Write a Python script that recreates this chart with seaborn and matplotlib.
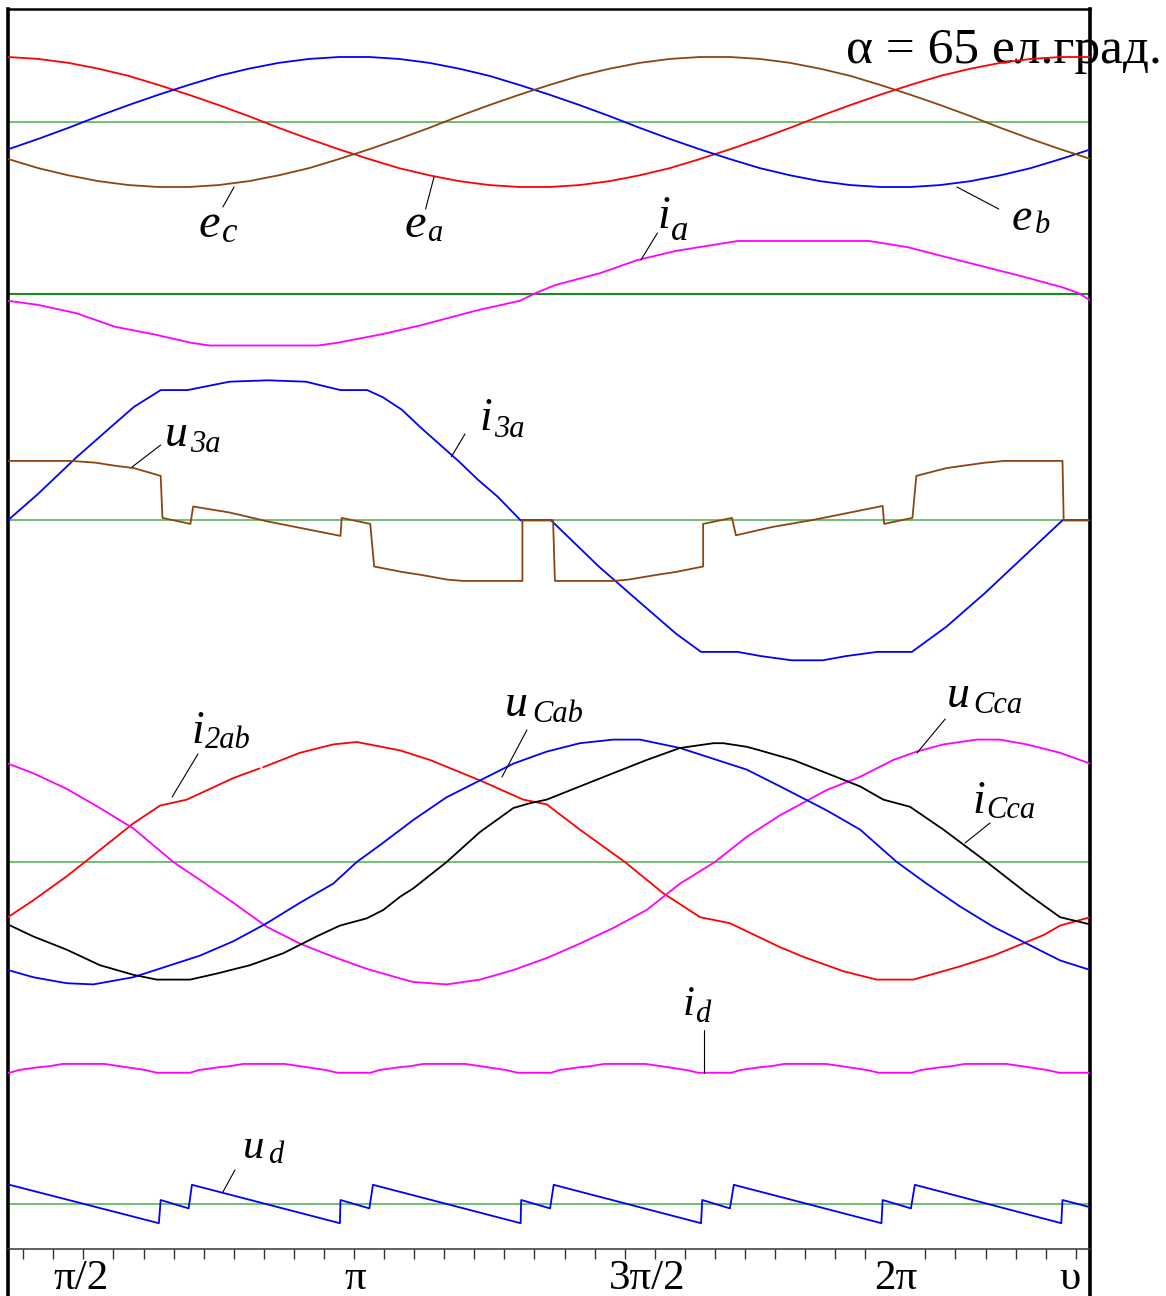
import numpy as np
import pandas as pd
import matplotlib
matplotlib.use("Agg")
import matplotlib.pyplot as plt
from matplotlib.ticker import FixedLocator
import seaborn as sns

# ---------------- data (electrical degrees, per-unit values) ----------------
theta_e = np.arange(65, 426, 10)
e_a = [1.00, 0.97, 0.91, 0.82, 0.71, 0.57, 0.42, 0.26, 0.09, -0.09, -0.26, -0.42,
       -0.57, -0.71, -0.82, -0.91, -0.97, -1.00, -1.00, -0.97, -0.91, -0.82, -0.71,
       -0.57, -0.42, -0.26, -0.09, 0.09, 0.26, 0.42, 0.57, 0.71, 0.82, 0.91, 0.97,
       1.00, 1.00]
e_b = [-0.42, -0.26, -0.09, 0.09, 0.26, 0.42, 0.57, 0.71, 0.82, 0.91, 0.97, 1.00,
       1.00, 0.97, 0.91, 0.82, 0.71, 0.57, 0.42, 0.26, 0.09, -0.09, -0.26, -0.42,
       -0.57, -0.71, -0.82, -0.91, -0.97, -1.00, -1.00, -0.97, -0.91, -0.82, -0.71,
       -0.57, -0.42]
e_c = [-0.57, -0.71, -0.82, -0.91, -0.97, -1.00, -1.00, -0.97, -0.91, -0.82, -0.71,
       -0.57, -0.42, -0.26, -0.09, 0.09, 0.26, 0.42, 0.57, 0.71, 0.82, 0.91, 0.97,
       1.00, 1.00, 0.97, 0.91, 0.82, 0.71, 0.57, 0.42, 0.26, 0.09, -0.09, -0.26,
       -0.42, -0.57]

ia_theta = [64.9, 75, 87.7, 100.5, 113, 126, 132, 168, 174.3, 189.6, 202.3, 221.2,
            235.2, 240.5, 246.8, 261.8, 274.1, 287.1, 307.7, 351.3, 364.2, 376.9,
            389.9, 402.8, 415.5, 420.8, 424.8]
ia_val = [-0.13, -0.21, -0.37, -0.63, -0.77, -0.94, -0.99, -0.99, -0.94, -0.77,
          -0.60, -0.31, -0.13, 0.02, 0.17, 0.40, 0.65, 0.83, 1.02, 1.02, 0.90, 0.71,
          0.52, 0.33, 0.13, 0.02, -0.12]

i3a_theta = [64.9, 75, 87.7, 100.4, 106.8, 115.7, 124.6, 138.6, 151.4, 164, 175.5,
             184.4, 189.5, 195.9, 202.3, 208.6, 214.9, 221.2, 227.7, 235.4, 245.5,
             261.4, 274.2, 287.1, 295.4, 307.6, 315.3, 325.6, 335.9, 343.6, 353.9,
             365.5, 377.0, 389.8, 402.7, 415.6, 424.8]
i3a_val = [0.0, 0.19, 0.45, 0.69, 0.81, 0.93, 0.93, 0.99, 1.00, 0.99, 0.93, 0.93,
           0.88, 0.79, 0.66, 0.54, 0.42, 0.29, 0.17, 0.0, 0.0, -0.33, -0.57, -0.81,
           -0.94, -0.94, -0.97, -1.00, -1.00, -0.97, -0.94, -0.94, -0.76, -0.52,
           -0.26, 0.0, 0.0]

u3a_theta = [64.9, 85.8, 94.1, 100.4, 106.8, 115.7, 116.3, 125.6, 126.5, 138.6,
             151.4, 175.5, 175.9, 185.4, 186.7, 195.9, 202.3, 211.2, 216.2, 236.0,
             236.0, 246.2, 246.8, 266.4, 271.0, 280.6, 287.1, 296.1, 296.1, 305.7,
             307.0, 319.2, 332.0, 345.0, 355.8, 356.3, 365.7, 367.0, 377.0, 389.8,
             396.3, 415.6, 416.0, 424.8]
u3a_val = [0.99, 0.99, 0.96, 0.91, 0.87, 0.74, 0.04, -0.06, 0.23, 0.13, -0.02,
           -0.26, 0.04, -0.06, -0.77, -0.86, -0.91, -0.99, -1.01, -1.01, 0.0, 0.0,
           -1.01, -1.01, -0.99, -0.91, -0.86, -0.77, -0.06, 0.04, -0.25, -0.11, 0.0,
           0.13, 0.24, -0.06, 0.04, 0.74, 0.87, 0.96, 0.99, 0.99, 0.0, 0.0]

i2ab_theta = [64.9, 73.3, 84.4, 90.5, 95.5, 106.5, 115.5, 124.4, 139.9, 148.6, 149.2,
              149.8, 162.0, 173.1, 180.9, 195.3, 205.3, 221.9, 236.3, 244.1, 255.1,
              266.2, 270.1, 282.8, 295.1, 305.0, 321.7, 329.4, 342.7, 353.8, 366.0,
              381.5, 392.6, 409.2, 414.8, 424.8]
i2ab_val = [-0.46, -0.32, -0.12, 0.0, 0.10, 0.32, 0.47, 0.52, 0.70, 0.78, np.nan,
            0.79, 0.91, 0.98, 1.00, 0.93, 0.85, 0.68, 0.52, 0.48, 0.27, 0.07, 0.0,
            -0.26, -0.46, -0.51, -0.71, -0.79, -0.91, -0.98, -0.98, -0.87, -0.78,
            -0.61, -0.53, -0.46]

ucca_theta = [64.9, 73.3, 84.4, 95.5, 106.6, 119.9, 128.8, 139.9, 151.0, 162.0,
              173.1, 184.2, 195.3, 199.7, 210.8, 221.9, 233.0, 244.1, 255.1, 266.2,
              277.3, 288.4, 300.0, 310.6, 321.7, 337.2, 348.3, 359.3, 367.1, 376.0,
              387.1, 394.8, 403.7, 414.8, 424.8]
ucca_val = [0.82, 0.74, 0.61, 0.45, 0.28, 0.0, -0.15, -0.34, -0.54, -0.68, -0.79,
            -0.89, -0.97, -1.00, -1.02, -0.98, -0.90, -0.80, -0.68, -0.55, -0.40,
            -0.18, 0.0, 0.21, 0.39, 0.60, 0.71, 0.85, 0.92, 0.98, 1.02, 1.02, 0.98,
            0.91, 0.82]

ucab_theta = [64.9, 73.3, 84.4, 93.3, 106.6, 117.7, 128.8, 139.9, 151.0, 162.0,
              173.1, 180.9, 188.6, 199.7, 210.8, 221.9, 233.0, 244.1, 255.1, 266.2,
              275.1, 288.4, 299.5, 310.6, 321.7, 337.2, 348.3, 360.5, 370.4, 381.5,
              392.6, 403.7, 414.8, 424.8]
ucab_val = [-0.90, -0.96, -1.01, -1.02, -0.96, -0.87, -0.78, -0.66, -0.51, -0.34,
            -0.18, 0.0, 0.14, 0.35, 0.54, 0.68, 0.82, 0.92, 0.99, 1.02, 1.02, 0.95,
            0.86, 0.77, 0.63, 0.43, 0.27, 0.0, -0.18, -0.37, -0.54, -0.68, -0.82,
            -0.90]

icca_theta = [64.9, 73.3, 84.4, 95.5, 106.6, 114.4, 125.5, 134.3, 145.4, 156.5,
              167.6, 175.3, 184.2, 189.7, 195.3, 199.7, 210.8, 221.9, 233.0, 238.5,
              244.1, 255.1, 266.2, 277.3, 288.4, 299.5, 302.8, 310.6, 315.0, 326.1,
              337.2, 348.3, 356.0, 364.9, 376.0, 390.4, 403.7, 414.8, 424.8]
icca_val = [-0.52, -0.62, -0.73, -0.86, -0.94, -0.98, -0.98, -0.93, -0.86, -0.76,
            -0.62, -0.53, -0.47, -0.40, -0.29, -0.22, 0.0, 0.25, 0.45, 0.49, 0.52,
            0.63, 0.74, 0.85, 0.95, 0.99, 0.99, 0.96, 0.93, 0.85, 0.74, 0.63, 0.52,
            0.46, 0.27, 0.0, -0.26, -0.46, -0.52]

id_theta = [64.9, 65.5, 68.5, 75, 79, 83, 97, 104.5, 110.5, 114.5,
            125.5, 128.5, 135, 139, 143, 157, 164.5, 170.5, 174.5,
            185.5, 188.5, 195, 199, 203, 217, 224.5, 230.5, 234.5,
            245.5, 248.5, 255, 259, 263, 277, 284.5, 290.5, 294.5,
            305.5, 308.5, 315, 319, 323, 337, 344.5, 350.5, 354.5,
            365.5, 368.5, 375, 379, 383, 397, 404.5, 410.5, 414.5, 424.8]
id_val = [0.96, 0.96, 0.985, 1.01, 1.021, 1.04, 1.04, 1.01, 0.985, 0.96,
          0.96, 0.985, 1.01, 1.021, 1.04, 1.04, 1.01, 0.985, 0.96,
          0.96, 0.985, 1.01, 1.021, 1.04, 1.04, 1.01, 0.985, 0.96,
          0.96, 0.985, 1.01, 1.021, 1.04, 1.04, 1.01, 0.985, 0.96,
          0.96, 0.985, 1.01, 1.021, 1.04, 1.04, 1.01, 0.985, 0.96,
          0.96, 0.985, 1.01, 1.021, 1.04, 1.04, 1.01, 0.985, 0.96, 0.96]

ud_theta = [64.9, 115.1, 115.7, 125.0, 126.1, 175.3, 175.5, 185.1, 186.3, 235.4,
            235.6, 245.2, 246.4, 295.4, 295.8, 305.0, 306.3, 355.4, 355.8, 365.2,
            366.5, 415.2, 415.6, 424.8]
ud_val = [0.49, -0.48, 0.10, -0.11, 0.48, -0.48, 0.10, -0.11, 0.48, -0.48, 0.10,
          -0.11, 0.48, -0.48, 0.10, -0.11, 0.48, -0.48, 0.10, -0.11, 0.48, -0.48,
          0.10, -0.08]

tick_pos = [89.1, 180.5, 277.4, 360.0, 418.1]
tick_text = ["π/2", "π", "3π/2", "2π", "υ"]
minor_pos = list(range(70, 421, 10))

# ---------------- style ----------------
sns.set_style("white")
plt.rcParams["font.family"] = ["Liberation Serif", "DejaVu Serif"]
plt.rcParams["text.color"] = "black"
plt.rcParams["xtick.color"] = "#333333"
plt.rcParams["xtick.labelcolor"] = "black"
SERIF = ["Liberation Serif", "DejaVu Serif"]

RED, BLUE, BROWN, MAGENTA, BLACK = "#ff0000", "#0000ff", "#8b4513", "#ff00ff", "#000000"
GREEN = "#4cae4c"

fig = plt.figure(figsize=(11.66, 12.96), dpi=100)
ax = fig.add_axes([8 / 1166, 0, 1082 / 1166, 1 - 9 / 1296])

# vertical placement of each trace group (row offset, row units per p.u.)
P1 = (122, 65)
P2 = (294, 52)
P3 = 520.3
P4 = (862, 120)
P5 = (1178.35, 110)
P6 = (1204, 40)


def trace(theta, values, base, scale, color, lw=1.3):
    df = pd.DataFrame({"theta": theta, "v": values})
    df["seg"] = df["v"].isna().cumsum()
    df = df.dropna()
    df["y"] = base - scale * df["v"]
    sns.lineplot(data=df, x="theta", y="y", units="seg", estimator=None,
                 sort=False, color=color, lw=lw, ax=ax, legend=False, zorder=3)


# zero lines
for yz in (P1[0], P3, P4[0], P6[0]):
    ax.axhline(yz, color=GREEN, lw=1.1, zorder=2)
ax.axhline(P2[0], color="#1f8a1f", lw=1.5, zorder=2)

trace(theta_e, e_a, *P1, RED)
trace(theta_e, e_b, *P1, BLUE)
trace(theta_e, e_c, *P1, BROWN)
trace(ia_theta, ia_val, *P2, MAGENTA)
trace(i3a_theta, i3a_val, P3, 140, BLUE)
trace(u3a_theta, u3a_val, P3, 60, BROWN)
trace(i2ab_theta, i2ab_val, *P4, RED)
trace(ucca_theta, ucca_val, *P4, MAGENTA)
trace(ucab_theta, ucab_val, *P4, BLUE)
trace(icca_theta, icca_val, *P4, BLACK)
trace(id_theta, id_val, *P5, MAGENTA)
trace(ud_theta, ud_val, *P6, BLUE)

# curve labels: (main, x, y, subscript, x, y, size, subsize)
labels = [
    ("e", 128.2, 237, "c", 136.1, 242, 35, 25),
    ("e", 196.9, 237, "a", 204.2, 241, 35, 22),
    ("e", 398.8, 230, "b", 406.5, 233, 33, 22),
    ("i", 280.8, 228, "a", 285.4, 240, 33, 25),
    ("u", 117.1, 446, "3a", 125.5, 452, 33, 22),
    ("i", 221.6, 430, "3a", 226.6, 437, 33, 22),
    ("i", 126.1, 743, "2ab", 130.4, 748, 33, 22),
    ("u", 230.2, 716, "Cab", 239.2, 722, 33, 22),
    ("u", 377.2, 707, "Cca", 385.8, 713, 33, 22),
    ("i", 385.5, 813, "Cca", 390.1, 818, 33, 22),
    ("i", 289.4, 1015, "d", 293.4, 1022, 31, 22),
    ("u", 143.0, 1158, "d", 151.4, 1163, 31, 22),
]
for m, mx, my, s, sx, sy, ms, ss in labels:
    ax.text(mx, my, m, fontsize=ms, family=SERIF, style="italic", color="black",
            ha="left", va="baseline", zorder=4)
    ax.text(sx, sy, s, fontsize=ss, family=SERIF, style="italic", color="black",
            ha="left", va="baseline", zorder=4)

leaders = [
    ((140.1, 136.4), (187, 207)),
    ((206.6, 203.8), (177, 209)),
    ((380.5, 394.4), (187, 209)),
    ((280.9, 275.4), (233, 260)),
    ((115.7, 106.2), (445, 467)),
    ((216.9, 212.4), (434, 456.7)),
    ((128.1, 119.5), (754, 797)),
    ((237.5, 229.2), (730, 777)),
    ((376.6, 367.2), (719, 753)),
    ((391.5, 383.2), (823, 843)),
    ((296.3, 296.3), (1030, 1073)),
    ((140.4, 136.4), (1170, 1192)),
]
for xs, ys in leaders:
    ax.plot(xs, ys, color="black", lw=0.8, zorder=4)

ax.text(343.5, 63, "α = 65 ел.град.", fontsize=37, family=SERIF, color="black",
        ha="left", va="baseline", zorder=1)

# axes frame and angle scale
ax.set_xlim(64.93, 424.75)
ax.set_ylim(1296, 9)
ax.set_xlabel("")
ax.set_ylabel("")
ax.set_yticks([])
ax.spines["bottom"].set_position(("data", 1249.5))
ax.spines["bottom"].set_color("#333333")
ax.spines["bottom"].set_linewidth(1.1)
for side in ("left", "right"):
    ax.spines[side].set_color("black")
    ax.spines[side].set_linewidth(2.6)
ax.spines["top"].set_color("black")
ax.spines["top"].set_linewidth(1.8)

ax.xaxis.set_major_locator(FixedLocator(tick_pos))
ax.xaxis.set_minor_locator(FixedLocator(minor_pos))
ax.set_xticklabels(tick_text, fontsize=31, family=SERIF, color="black")
ax.tick_params(axis="x", which="both", bottom=True, top=False)
ax.tick_params(axis="x", which="major", length=0, pad=7.0)
ax.tick_params(axis="x", which="minor", length=7.2, width=1.0,
               direction="out", color="#333333")

fig.savefig("out.png", dpi=100)
